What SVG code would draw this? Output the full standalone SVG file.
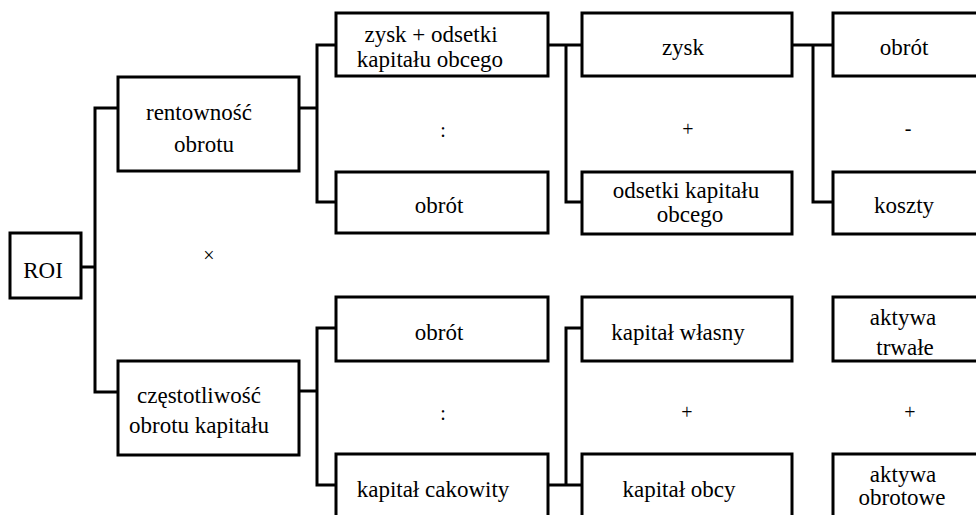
<svg xmlns="http://www.w3.org/2000/svg" width="976" height="515" viewBox="0 0 976 515">
<style>
.box{fill:#fff;stroke:#000;stroke-width:3}
.con{fill:none;stroke:#000;stroke-width:3}
text{font-family:'Liberation Serif','DejaVu Serif',serif;font-size:23px;fill:#000;text-anchor:middle}
.op{font-size:20px}
</style>
<rect width="976" height="515" fill="#fff"/>
<g id="connectors">
<polyline class="con" points="81,267 95,267"/>
<polyline class="con" points="118,108 95,108 95,392 118,392"/>
<polyline class="con" points="299,108 317,108"/>
<polyline class="con" points="336,45 317,45 317,202 336,202"/>
<polyline class="con" points="548,45 582,45"/>
<polyline class="con" points="566,45 566,202 582,202"/>
<polyline class="con" points="792,45 833,45"/>
<polyline class="con" points="813,45 813,202 833,202"/>
<polyline class="con" points="299,391 317,391"/>
<polyline class="con" points="336,328 317,328 317,485 336,485"/>
<polyline class="con" points="548,485 582,485"/>
<polyline class="con" points="566,485 566,328 582,328"/>
</g>
<g font-family="Liberation Serif, serif">
<g id="roi"><rect class="box" x="10" y="233" width="71" height="65"/><text x="43" y="278">ROI</text></g>
<g id="rentownosc"><rect class="box" x="118" y="77" width="181" height="94"/><text x="199" y="120">rentowność</text><text x="204" y="152">obrotu</text></g>
<g id="czestotliwosc"><rect class="box" x="118" y="361" width="181" height="94"/><text x="199" y="403">częstotliwość</text><text x="199" y="433">obrotu kapitału</text></g>
<g id="zysk-odsetki"><rect class="box" x="336" y="13" width="212" height="63"/><text x="431" y="42">zysk + odsetki</text><text x="430" y="67">kapitału obcego</text></g>
<g id="obrot1"><rect class="box" x="336" y="172" width="212" height="61"/><text x="439" y="213">obrót</text></g>
<g id="zysk"><rect class="box" x="582" y="13" width="210" height="63"/><text x="683" y="55">zysk</text></g>
<g id="odsetki"><rect class="box" x="582" y="172" width="210" height="62"/><text x="686" y="198">odsetki kapitału</text><text x="690" y="222">obcego</text></g>
<g id="obrot2"><rect class="box" x="833" y="13" width="160" height="63"/><text x="904" y="55">obrót</text></g>
<g id="koszty"><rect class="box" x="833" y="172" width="160" height="62"/><text x="904" y="213">koszty</text></g>
<g id="obrot3"><rect class="box" x="336" y="297" width="212" height="64"/><text x="439" y="340">obrót</text></g>
<g id="kapital-calkowity"><rect class="box" x="336" y="454" width="212" height="80"/><text x="433" y="497">kapitał cakowity</text></g>
<g id="kapital-wlasny"><rect class="box" x="582" y="297" width="210" height="64"/><text x="678" y="340">kapitał własny</text></g>
<g id="kapital-obcy"><rect class="box" x="582" y="454" width="210" height="80"/><text x="679" y="497">kapitał obcy</text></g>
<g id="aktywa-trwale"><rect class="box" x="833" y="297" width="160" height="64"/><text x="903" y="325">aktywa</text><text x="905" y="355">trwałe</text></g>
<g id="aktywa-obrotowe"><rect class="box" x="833" y="454" width="160" height="80"/><text x="903" y="482">aktywa</text><text x="902" y="505">obrotowe</text></g>
<g id="operators">
<text class="op" x="209" y="262">×</text>
<text class="op" x="443" y="137">:</text>
<text class="op" x="688" y="136">+</text>
<text class="op" x="908" y="135">-</text>
<text class="op" x="443" y="420">:</text>
<text class="op" x="687" y="419">+</text>
<text class="op" x="910" y="419">+</text>
</g>
</g>
</svg>
